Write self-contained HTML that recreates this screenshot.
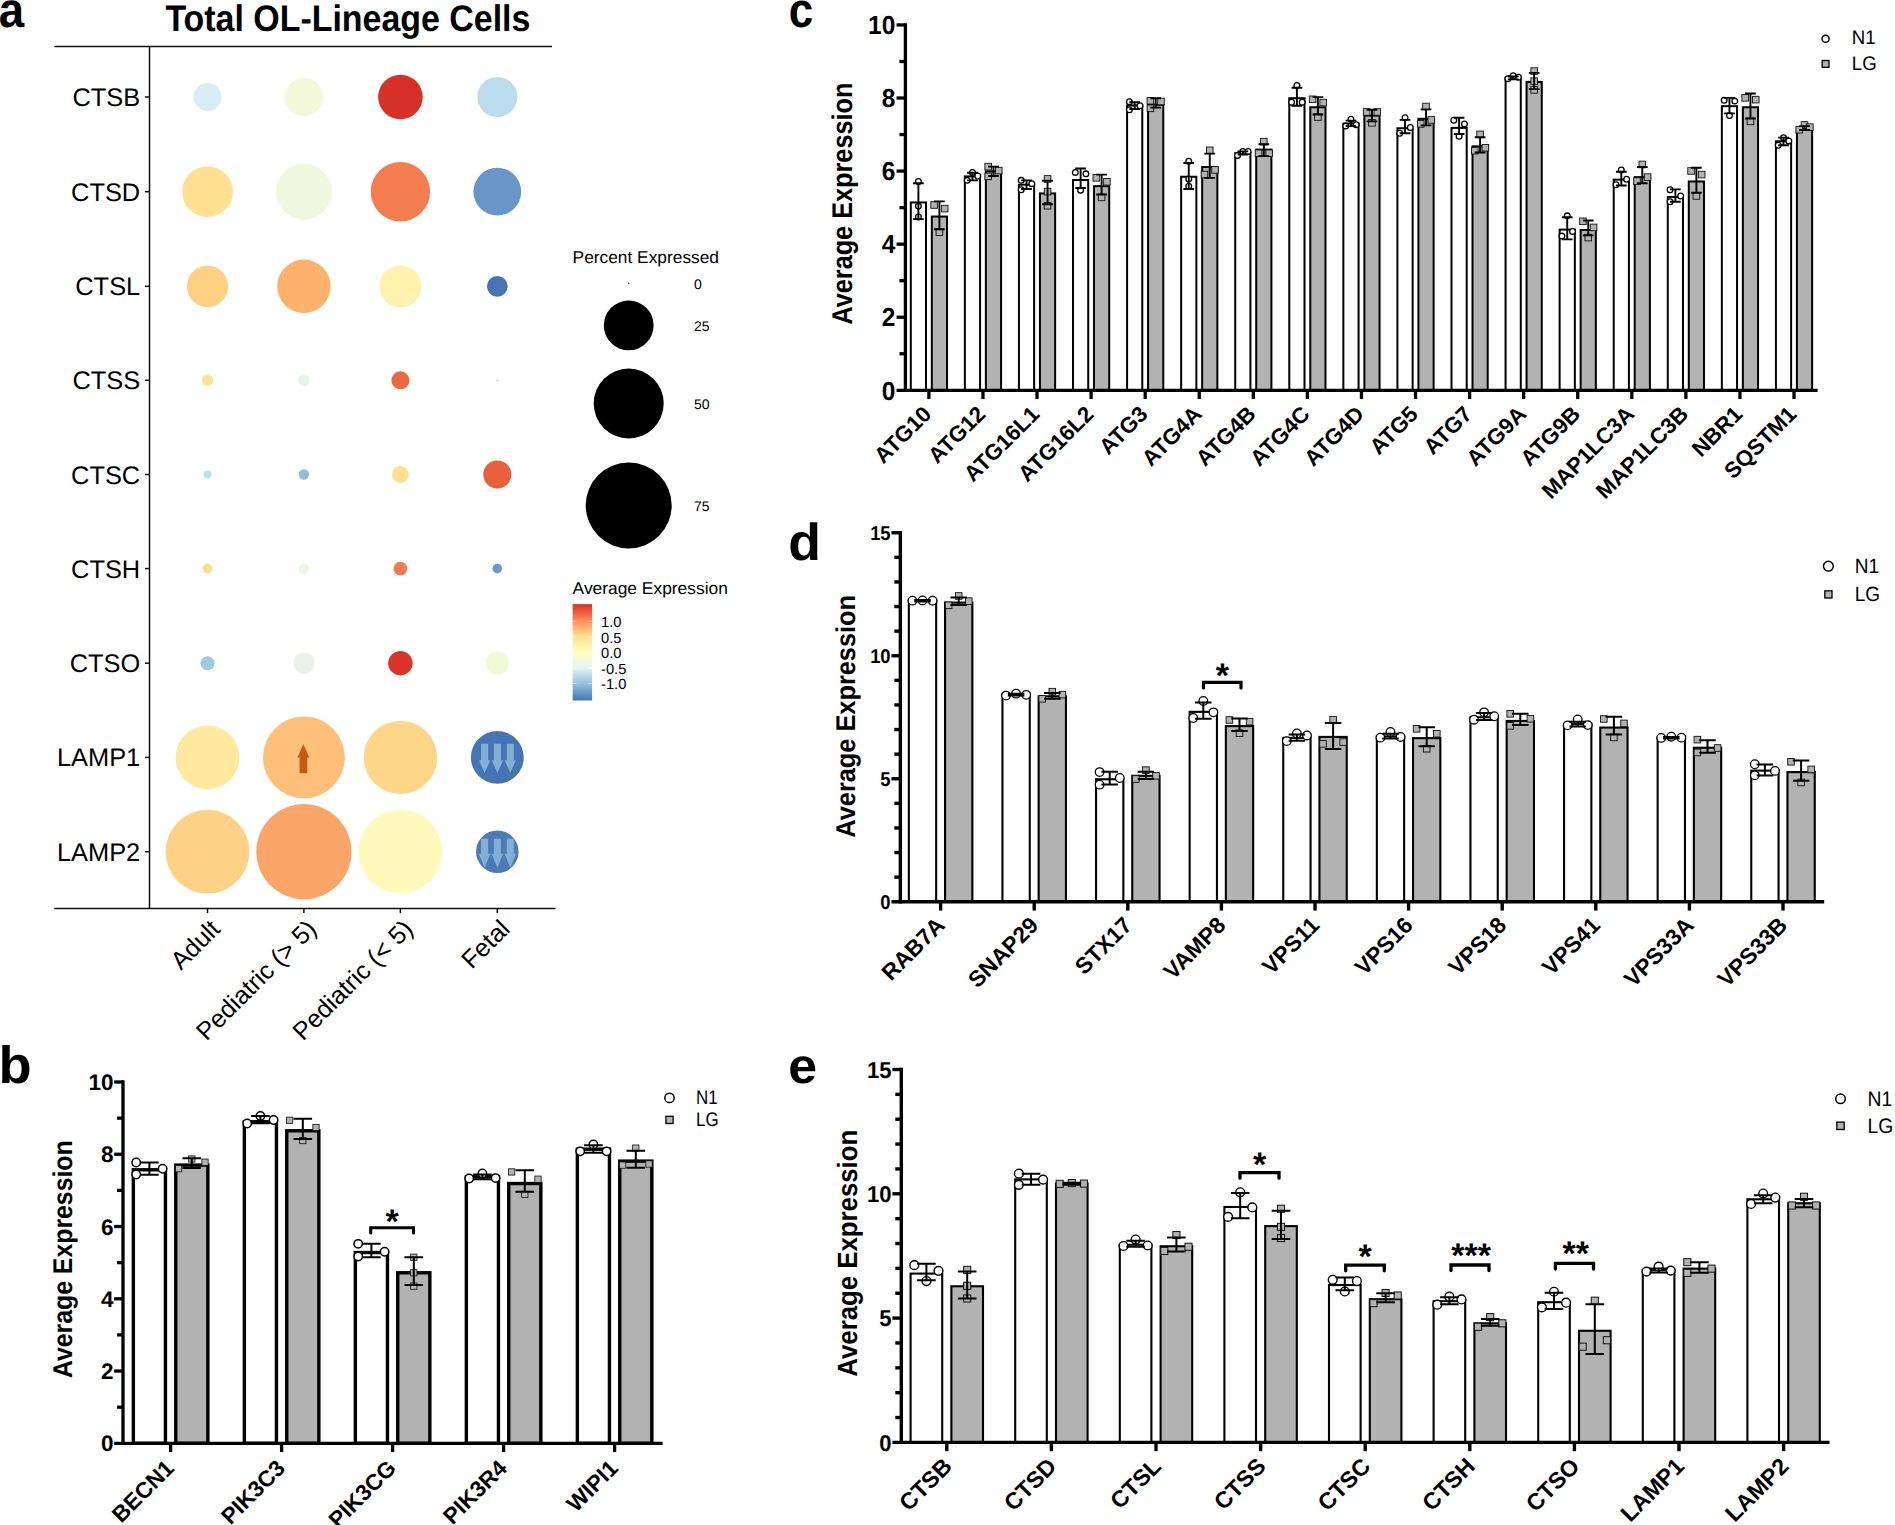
<!DOCTYPE html>
<html lang="en">
<head>
<meta charset="utf-8">
<title>Figure: OL-lineage lysosomal and autophagy gene expression</title>
<style>
html,body{margin:0;padding:0;background:#fff;}
body{width:1895px;height:1525px;overflow:hidden;}
svg{display:block;font-family:'Liberation Sans', Arial, Helvetica, sans-serif;fill:#000;}
svg text{fill:#000;}
</style>
</head>
<body>
<svg width="1895" height="1525" viewBox="0 0 1895 1525" text-rendering="geometricPrecision">
<rect x="0" y="0" width="1895" height="1525" fill="#fff"/>
<g id="panel-a">
<text x="-1.33" y="27.1" font-size="49.8" font-weight="bold" textLength="25.41" lengthAdjust="spacingAndGlyphs">a</text>
<text x="165.4" y="31.2" font-size="37" font-weight="bold" textLength="365" lengthAdjust="spacingAndGlyphs">Total OL-Lineage Cells</text>
<g stroke="#111" stroke-width="1.5" fill="none">
<line x1="54.3" y1="46.5" x2="552" y2="46.5"/>
<line x1="54.3" y1="908.5" x2="555.5" y2="908.5"/>
<line x1="149.5" y1="46.5" x2="149.5" y2="908.5"/>
<line x1="144.9" y1="97" x2="149.5" y2="97"/>
<line x1="144.9" y1="191.7" x2="149.5" y2="191.7"/>
<line x1="144.9" y1="286.3" x2="149.5" y2="286.3"/>
<line x1="144.9" y1="380.3" x2="149.5" y2="380.3"/>
<line x1="144.9" y1="474.5" x2="149.5" y2="474.5"/>
<line x1="144.9" y1="568.6" x2="149.5" y2="568.6"/>
<line x1="144.9" y1="663.2" x2="149.5" y2="663.2"/>
<line x1="144.9" y1="757.4" x2="149.5" y2="757.4"/>
<line x1="144.9" y1="851.7" x2="149.5" y2="851.7"/>
<line x1="207.5" y1="908.5" x2="207.5" y2="913.1"/>
<line x1="303.9" y1="908.5" x2="303.9" y2="913.1"/>
<line x1="400.4" y1="908.5" x2="400.4" y2="913.1"/>
<line x1="497.3" y1="908.5" x2="497.3" y2="913.1"/>
</g>
<g font-size="25.4" text-anchor="end" fill="#000">
<text x="140.2" y="106">CTSB</text>
<text x="140.2" y="200.7">CTSD</text>
<text x="140.2" y="295.3">CTSL</text>
<text x="140.2" y="389.3">CTSS</text>
<text x="140.2" y="483.5">CTSC</text>
<text x="140.2" y="577.6">CTSH</text>
<text x="140.2" y="672.2">CTSO</text>
<text x="140.2" y="766.4">LAMP1</text>
<text x="140.2" y="860.7">LAMP2</text>
</g>
<g font-size="25.2" text-anchor="end" fill="#000">
<text transform="translate(221.5 930.5) rotate(-45)">Adult</text>
<text transform="translate(317.9 930.5) rotate(-45)">Pediatric (&gt; 5)</text>
<text transform="translate(414.4 930.5) rotate(-45)">Pediatric (&lt; 5)</text>
<text transform="translate(511.3 930.5) rotate(-45)">Fetal</text>
</g>
<circle cx="207.5" cy="97" r="14" fill="#D8EDF4"/>
<circle cx="303.9" cy="97" r="19.2" fill="#F4FAD9"/>
<circle cx="400.4" cy="97" r="22.3" fill="#D73027"/>
<circle cx="497.3" cy="97" r="20" fill="#BBDCEC"/>
<circle cx="207.5" cy="191.7" r="25.3" fill="#FEE090"/>
<circle cx="303.9" cy="191.7" r="28" fill="#EEF8DF"/>
<circle cx="400.4" cy="191.7" r="29.7" fill="#F47D4F"/>
<circle cx="497.3" cy="191.7" r="23.9" fill="#6A96C7"/>
<circle cx="207.5" cy="286.3" r="20.7" fill="#FED081"/>
<circle cx="303.9" cy="286.3" r="26.7" fill="#FDB26B"/>
<circle cx="400.4" cy="286.3" r="21" fill="#FFF2AE"/>
<circle cx="497.3" cy="286.3" r="10.4" fill="#4675B5"/>
<circle cx="207.5" cy="380.3" r="5.6" fill="#FEE08F"/>
<circle cx="303.9" cy="380.3" r="5.8" fill="#E6F5E6"/>
<circle cx="400.4" cy="380.3" r="9" fill="#EB6841"/>
<circle cx="497.3" cy="380.3" r="0.6" fill="#6C99C9"/>
<circle cx="207.5" cy="474.5" r="4" fill="#BFE0EE"/>
<circle cx="303.9" cy="474.5" r="5.2" fill="#8DBFDC"/>
<circle cx="400.4" cy="474.5" r="8.4" fill="#FEE090"/>
<circle cx="497.3" cy="474.5" r="14" fill="#E8603C"/>
<circle cx="207.5" cy="568.6" r="4.8" fill="#FEDC88"/>
<circle cx="303.9" cy="568.6" r="5.2" fill="#EAF6E0"/>
<circle cx="400.4" cy="568.6" r="6.8" fill="#F37A4C"/>
<circle cx="497.3" cy="568.6" r="4.8" fill="#6C99C9"/>
<circle cx="207.5" cy="663.2" r="7" fill="#9CCAE2"/>
<circle cx="303.9" cy="663.2" r="10.8" fill="#E8F5E6"/>
<circle cx="400.4" cy="663.2" r="12.2" fill="#D93529"/>
<circle cx="497.3" cy="663.2" r="11.6" fill="#F2F9D5"/>
<circle cx="207.5" cy="757.4" r="31.9" fill="#FEE99F"/>
<circle cx="303.9" cy="757.4" r="40.9" fill="#FDBF7A"/>
<circle cx="400.4" cy="757.4" r="36.7" fill="#FED687"/>
<circle cx="497.3" cy="757.4" r="26.4" fill="#4575B4"/>
<circle cx="207.5" cy="851.7" r="41.9" fill="#FED286"/>
<circle cx="303.9" cy="851.7" r="47.6" fill="#FCA568"/>
<circle cx="400.4" cy="851.7" r="41.8" fill="#FFFABA"/>
<circle cx="497.3" cy="851.7" r="21.3" fill="#4C7BB8"/>
<path fill="#C55A11" d="M303.4 744.2 L309.3 757.6 L307.25 757.6 L307.25 773.3 L299.55 773.3 L299.55 757.6 L297.5 757.6 Z"/>
<clipPath id="clipda0"><circle cx="497.3" cy="757.4" r="26.4"/></clipPath>
<g clip-path="url(#clipda0)" fill="#85AED4">
<path d="M481.1 743.8 L488.1 743.8 L488.1 760.2 L490.3 760.2 L484.6 772.8 L478.9 760.2 L481.1 760.2 Z"/>
<path d="M493.9 743.8 L500.9 743.8 L500.9 760.2 L503.1 760.2 L497.4 772.8 L491.7 760.2 L493.9 760.2 Z"/>
<path d="M506.8 743.8 L513.8 743.8 L513.8 760.2 L516 760.2 L510.3 772.8 L504.6 760.2 L506.8 760.2 Z"/>
</g>
<clipPath id="clipda1"><circle cx="497.3" cy="851.7" r="21.3"/></clipPath>
<g clip-path="url(#clipda1)" fill="#85AED4">
<path d="M481.1 838.7 L488.1 838.7 L488.1 853.8 L490.3 853.8 L484.6 867.7 L478.9 853.8 L481.1 853.8 Z"/>
<path d="M493.9 838.7 L500.9 838.7 L500.9 853.8 L503.1 853.8 L497.4 867.7 L491.7 853.8 L493.9 853.8 Z"/>
<path d="M506.8 838.7 L513.8 838.7 L513.8 853.8 L516 853.8 L510.3 867.7 L504.6 853.8 L506.8 853.8 Z"/>
</g>
<text x="572.6" y="263.3" font-size="17" textLength="146.4" lengthAdjust="spacingAndGlyphs">Percent Expressed</text>
<circle cx="628.7" cy="283.2" r="0.6" fill="#000"/>
<text x="693.9" y="289.2" font-size="14">0</text>
<circle cx="628.7" cy="325.4" r="24.9" fill="#000"/>
<text x="693.9" y="331" font-size="14">25</text>
<circle cx="628.7" cy="403.5" r="35" fill="#000"/>
<text x="693.9" y="409.2" font-size="14">50</text>
<circle cx="628.7" cy="505.4" r="43" fill="#000"/>
<text x="693.9" y="511.2" font-size="14">75</text>
<text x="572.6" y="594" font-size="17" textLength="155.3" lengthAdjust="spacingAndGlyphs">Average Expression</text>
<defs><linearGradient id="cbar" x1="0" y1="0" x2="0" y2="1">
<stop offset="0" stop-color="#D73027"/>
<stop offset="0.17" stop-color="#FC8D59"/>
<stop offset="0.33" stop-color="#FEE090"/>
<stop offset="0.5" stop-color="#FFFFBF"/>
<stop offset="0.67" stop-color="#E0F3F8"/>
<stop offset="0.83" stop-color="#91BFDB"/>
<stop offset="1" stop-color="#4575B4"/>
</linearGradient></defs>
<rect x="572.6" y="604.1" width="19.5" height="96.4" fill="url(#cbar)"/>
<text x="601" y="626.8" font-size="14.7">1.0</text>
<line x1="572.6" y1="621.2" x2="576.5" y2="621.2" stroke="#fff" stroke-opacity="0.6" stroke-width="0.8"/>
<line x1="588.2" y1="621.2" x2="592.1" y2="621.2" stroke="#fff" stroke-opacity="0.6" stroke-width="0.8"/>
<text x="601" y="642.6" font-size="14.7">0.5</text>
<line x1="572.6" y1="637" x2="576.5" y2="637" stroke="#fff" stroke-opacity="0.6" stroke-width="0.8"/>
<line x1="588.2" y1="637" x2="592.1" y2="637" stroke="#fff" stroke-opacity="0.6" stroke-width="0.8"/>
<text x="601" y="658" font-size="14.7">0.0</text>
<line x1="572.6" y1="652.4" x2="576.5" y2="652.4" stroke="#fff" stroke-opacity="0.6" stroke-width="0.8"/>
<line x1="588.2" y1="652.4" x2="592.1" y2="652.4" stroke="#fff" stroke-opacity="0.6" stroke-width="0.8"/>
<text x="601" y="673.7" font-size="14.7">-0.5</text>
<line x1="572.6" y1="668.1" x2="576.5" y2="668.1" stroke="#fff" stroke-opacity="0.6" stroke-width="0.8"/>
<line x1="588.2" y1="668.1" x2="592.1" y2="668.1" stroke="#fff" stroke-opacity="0.6" stroke-width="0.8"/>
<text x="601" y="689.2" font-size="14.7">-1.0</text>
<line x1="572.6" y1="683.6" x2="576.5" y2="683.6" stroke="#fff" stroke-opacity="0.6" stroke-width="0.8"/>
<line x1="588.2" y1="683.6" x2="592.1" y2="683.6" stroke="#fff" stroke-opacity="0.6" stroke-width="0.8"/>
</g>
<g id="panel-b">
<text x="-1.63" y="1083.18" font-size="52.4" font-weight="bold" textLength="33.14" lengthAdjust="spacingAndGlyphs">b</text>
<rect x="133.35" y="1169.8" width="32.1" height="273.5" fill="#fff" stroke="#000" stroke-width="3.4"/>
<rect x="175.75" y="1165.1" width="32.1" height="278.2" fill="#B2B2B2" stroke="#000" stroke-width="3.4"/>
<rect x="244.35" y="1121.74" width="32.1" height="321.56" fill="#fff" stroke="#000" stroke-width="3.4"/>
<rect x="286.75" y="1130.78" width="32.1" height="312.52" fill="#B2B2B2" stroke="#000" stroke-width="3.4"/>
<rect x="355.35" y="1252.53" width="32.1" height="190.77" fill="#fff" stroke="#000" stroke-width="3.4"/>
<rect x="397.75" y="1272.77" width="32.1" height="170.53" fill="#B2B2B2" stroke="#000" stroke-width="3.4"/>
<rect x="466.35" y="1176.66" width="32.1" height="266.64" fill="#fff" stroke="#000" stroke-width="3.4"/>
<rect x="508.75" y="1183.53" width="32.1" height="259.77" fill="#B2B2B2" stroke="#000" stroke-width="3.4"/>
<rect x="577.35" y="1149.2" width="32.1" height="294.1" fill="#fff" stroke="#000" stroke-width="3.4"/>
<rect x="619.75" y="1161.12" width="32.1" height="282.18" fill="#B2B2B2" stroke="#000" stroke-width="3.4"/>
<circle cx="136.2" cy="1162.57" r="4.2" fill="#fff" stroke="#000" stroke-width="1.5"/>
<circle cx="162.6" cy="1168.71" r="4.2" fill="#fff" stroke="#000" stroke-width="1.5"/>
<circle cx="136.2" cy="1174.49" r="4.2" fill="#fff" stroke="#000" stroke-width="1.5"/>
<path d="M149.4 1162.57 V1174.85 M140.1 1162.57 H158.7 M140.1 1174.85 H158.7" stroke="#000" stroke-width="2" fill="none"/>
<rect x="188.65" y="1155.81" width="6.3" height="6.3" fill="#B2B2B2" stroke="#111" stroke-width="0.8"/>
<rect x="201.85" y="1159.06" width="6.3" height="6.3" fill="#B2B2B2" stroke="#111" stroke-width="0.8"/>
<rect x="175.45" y="1165.56" width="6.3" height="6.3" fill="#B2B2B2" stroke="#111" stroke-width="0.8"/>
<path d="M191.8 1158.23 V1167.99 M182.5 1158.23 H201.1 M182.5 1167.99 H201.1" stroke="#000" stroke-width="2" fill="none"/>
<circle cx="247.2" cy="1123.55" r="4.2" fill="#fff" stroke="#000" stroke-width="1.5"/>
<circle cx="260.4" cy="1115.96" r="4.2" fill="#fff" stroke="#000" stroke-width="1.5"/>
<circle cx="273.6" cy="1119.94" r="4.2" fill="#fff" stroke="#000" stroke-width="1.5"/>
<path d="M260.4 1115.96 V1123.19 M251.1 1115.96 H269.7 M251.1 1123.19 H269.7" stroke="#000" stroke-width="2" fill="none"/>
<rect x="286.45" y="1117.15" width="6.3" height="6.3" fill="#B2B2B2" stroke="#111" stroke-width="0.8"/>
<rect x="312.85" y="1124.37" width="6.3" height="6.3" fill="#B2B2B2" stroke="#111" stroke-width="0.8"/>
<rect x="299.65" y="1137.38" width="6.3" height="6.3" fill="#B2B2B2" stroke="#111" stroke-width="0.8"/>
<path d="M302.8 1118.85 V1139.09 M293.5 1118.85 H312.1 M293.5 1139.09 H312.1" stroke="#000" stroke-width="2" fill="none"/>
<circle cx="358.2" cy="1243.86" r="4.2" fill="#fff" stroke="#000" stroke-width="1.5"/>
<circle cx="384.6" cy="1251.81" r="4.2" fill="#fff" stroke="#000" stroke-width="1.5"/>
<circle cx="358.2" cy="1256.51" r="4.2" fill="#fff" stroke="#000" stroke-width="1.5"/>
<path d="M371.4 1243.86 V1257.23 M362.1 1243.86 H380.7 M362.1 1257.23 H380.7" stroke="#000" stroke-width="2" fill="none"/>
<rect x="410.65" y="1254.08" width="6.3" height="6.3" fill="#B2B2B2" stroke="#111" stroke-width="0.8"/>
<rect x="410.65" y="1269.62" width="6.3" height="6.3" fill="#B2B2B2" stroke="#111" stroke-width="0.8"/>
<rect x="410.65" y="1282.98" width="6.3" height="6.3" fill="#B2B2B2" stroke="#111" stroke-width="0.8"/>
<path d="M413.8 1257.23 V1285.05 M404.5 1257.23 H423.1 M404.5 1285.05 H423.1" stroke="#000" stroke-width="2" fill="none"/>
<circle cx="469.2" cy="1178.47" r="4.2" fill="#fff" stroke="#000" stroke-width="1.5"/>
<circle cx="482.4" cy="1173.41" r="4.2" fill="#fff" stroke="#000" stroke-width="1.5"/>
<circle cx="495.6" cy="1178.11" r="4.2" fill="#fff" stroke="#000" stroke-width="1.5"/>
<path d="M482.4 1174.49 V1179.19 M473.1 1174.49 H491.7 M473.1 1179.19 H491.7" stroke="#000" stroke-width="2" fill="none"/>
<rect x="508.45" y="1168.81" width="6.3" height="6.3" fill="#B2B2B2" stroke="#111" stroke-width="0.8"/>
<rect x="534.85" y="1176.04" width="6.3" height="6.3" fill="#B2B2B2" stroke="#111" stroke-width="0.8"/>
<rect x="521.65" y="1191.21" width="6.3" height="6.3" fill="#B2B2B2" stroke="#111" stroke-width="0.8"/>
<path d="M524.8 1170.16 V1191.84 M515.5 1170.16 H534.1 M515.5 1191.84 H534.1" stroke="#000" stroke-width="2" fill="none"/>
<circle cx="580.2" cy="1151.37" r="4.2" fill="#fff" stroke="#000" stroke-width="1.5"/>
<circle cx="593.4" cy="1144.5" r="4.2" fill="#fff" stroke="#000" stroke-width="1.5"/>
<circle cx="606.6" cy="1151.37" r="4.2" fill="#fff" stroke="#000" stroke-width="1.5"/>
<path d="M593.4 1145.23 V1152.81 M584.1 1145.23 H602.7 M584.1 1152.81 H602.7" stroke="#000" stroke-width="2" fill="none"/>
<rect x="619.45" y="1161.95" width="6.3" height="6.3" fill="#B2B2B2" stroke="#111" stroke-width="0.8"/>
<rect x="645.85" y="1160.87" width="6.3" height="6.3" fill="#B2B2B2" stroke="#111" stroke-width="0.8"/>
<rect x="632.65" y="1144.97" width="6.3" height="6.3" fill="#B2B2B2" stroke="#111" stroke-width="0.8"/>
<path d="M635.8 1150.65 V1167.63 M626.5 1150.65 H645.1 M626.5 1167.63 H645.1" stroke="#000" stroke-width="2" fill="none"/>
<g stroke="#000" stroke-width="3.3" fill="none">
<line x1="123" y1="1080.35" x2="123" y2="1444.95"/>
<line x1="114.15" y1="1443.3" x2="662.6" y2="1443.3"/>
<line x1="117.05" y1="1407.17" x2="123" y2="1407.17"/>
<line x1="114.15" y1="1371.04" x2="123" y2="1371.04"/>
<line x1="117.05" y1="1334.91" x2="123" y2="1334.91"/>
<line x1="114.15" y1="1298.78" x2="123" y2="1298.78"/>
<line x1="117.05" y1="1262.65" x2="123" y2="1262.65"/>
<line x1="114.15" y1="1226.52" x2="123" y2="1226.52"/>
<line x1="117.05" y1="1190.39" x2="123" y2="1190.39"/>
<line x1="114.15" y1="1154.26" x2="123" y2="1154.26"/>
<line x1="117.05" y1="1118.13" x2="123" y2="1118.13"/>
<line x1="114.15" y1="1082" x2="123" y2="1082"/>
<line x1="170.6" y1="1443.3" x2="170.6" y2="1452.05"/>
<line x1="281.6" y1="1443.3" x2="281.6" y2="1452.05"/>
<line x1="392.6" y1="1443.3" x2="392.6" y2="1452.05"/>
<line x1="503.6" y1="1443.3" x2="503.6" y2="1452.05"/>
<line x1="614.6" y1="1443.3" x2="614.6" y2="1452.05"/>
</g>
<g font-size="22.5" font-weight="bold" text-anchor="end">
<text transform="translate(113.6 1451.3) scale(1 1)">0</text>
<text transform="translate(113.6 1379.04) scale(1 1)">2</text>
<text transform="translate(113.6 1306.78) scale(1 1)">4</text>
<text transform="translate(113.6 1234.52) scale(1 1)">6</text>
<text transform="translate(113.6 1162.26) scale(1 1)">8</text>
<text transform="translate(113.6 1090) scale(1 1)">10</text>
</g>
<text transform="translate(72 1259.2) rotate(-90)" font-size="27.1" font-weight="bold" text-anchor="middle" textLength="237.8" lengthAdjust="spacingAndGlyphs">Average Expression</text>
<g font-size="22.6" font-weight="bold" text-anchor="end">
<text transform="translate(175.4 1469.5) rotate(-45)">BECN1</text>
<text transform="translate(286.4 1469.5) rotate(-45)">PIK3C3</text>
<text transform="translate(397.4 1469.5) rotate(-45)">PIK3CG</text>
<text transform="translate(508.4 1469.5) rotate(-45)">PIK3R4</text>
<text transform="translate(619.4 1469.5) rotate(-45)">WIPI1</text>
</g>
<path d="M370.7 1233 V1227.8 H413.5 V1233" stroke="#000" stroke-width="3.1" fill="none" stroke-linejoin="miter" stroke-linecap="round"/>
<text x="392.1" y="1232.7" font-size="34" font-weight="bold" text-anchor="middle">*</text>
<circle cx="669.5" cy="1097.9" r="4.65" fill="#fff" stroke="#000" stroke-width="1.5"/>
<rect x="665.9" y="1116.3" width="7.2" height="7.2" fill="#B2B2B2" stroke="#000" stroke-width="1.3"/>
<text transform="translate(696 1104.3) scale(0.86 1)" font-size="19.7">N1</text>
<text transform="translate(696 1126.3) scale(0.86 1)" font-size="19.7">LG</text>
</g>
<g id="panel-c">
<text x="788.68" y="26.81" font-size="49.3" font-weight="bold" textLength="24.5" lengthAdjust="spacingAndGlyphs">c</text>
<rect x="910.8" y="202.46" width="15.2" height="187.84" fill="#fff" stroke="#000" stroke-width="2"/>
<rect x="931.8" y="216.57" width="15.2" height="173.73" fill="#B2B2B2" stroke="#000" stroke-width="2"/>
<rect x="964.87" y="176.39" width="15.2" height="213.91" fill="#fff" stroke="#000" stroke-width="2"/>
<rect x="985.87" y="171.32" width="15.2" height="218.98" fill="#B2B2B2" stroke="#000" stroke-width="2"/>
<rect x="1018.94" y="184.72" width="15.2" height="205.58" fill="#fff" stroke="#000" stroke-width="2"/>
<rect x="1039.94" y="193.41" width="15.2" height="196.89" fill="#B2B2B2" stroke="#000" stroke-width="2"/>
<rect x="1073.01" y="180.01" width="15.2" height="210.29" fill="#fff" stroke="#000" stroke-width="2"/>
<rect x="1094.01" y="186.17" width="15.2" height="204.13" fill="#B2B2B2" stroke="#000" stroke-width="2"/>
<rect x="1127.08" y="105.44" width="15.2" height="284.86" fill="#fff" stroke="#000" stroke-width="2"/>
<rect x="1148.08" y="104.72" width="15.2" height="285.58" fill="#B2B2B2" stroke="#000" stroke-width="2"/>
<rect x="1181.15" y="176.75" width="15.2" height="213.55" fill="#fff" stroke="#000" stroke-width="2"/>
<rect x="1202.15" y="166.98" width="15.2" height="223.32" fill="#B2B2B2" stroke="#000" stroke-width="2"/>
<rect x="1235.22" y="153.22" width="15.2" height="237.08" fill="#fff" stroke="#000" stroke-width="2"/>
<rect x="1256.22" y="149.61" width="15.2" height="240.69" fill="#B2B2B2" stroke="#000" stroke-width="2"/>
<rect x="1289.29" y="98.2" width="15.2" height="292.1" fill="#fff" stroke="#000" stroke-width="2"/>
<rect x="1310.29" y="107.25" width="15.2" height="283.05" fill="#B2B2B2" stroke="#000" stroke-width="2"/>
<rect x="1343.36" y="123.54" width="15.2" height="266.76" fill="#fff" stroke="#000" stroke-width="2"/>
<rect x="1364.36" y="115.58" width="15.2" height="274.72" fill="#B2B2B2" stroke="#000" stroke-width="2"/>
<rect x="1397.43" y="128.25" width="15.2" height="262.05" fill="#fff" stroke="#000" stroke-width="2"/>
<rect x="1418.43" y="118.84" width="15.2" height="271.46" fill="#B2B2B2" stroke="#000" stroke-width="2"/>
<rect x="1451.5" y="127.89" width="15.2" height="262.41" fill="#fff" stroke="#000" stroke-width="2"/>
<rect x="1472.5" y="146.35" width="15.2" height="243.95" fill="#B2B2B2" stroke="#000" stroke-width="2"/>
<rect x="1505.57" y="77.93" width="15.2" height="312.37" fill="#fff" stroke="#000" stroke-width="2"/>
<rect x="1526.57" y="81.91" width="15.2" height="308.39" fill="#B2B2B2" stroke="#000" stroke-width="2"/>
<rect x="1559.64" y="229.6" width="15.2" height="160.7" fill="#fff" stroke="#000" stroke-width="2"/>
<rect x="1580.64" y="229.97" width="15.2" height="160.33" fill="#B2B2B2" stroke="#000" stroke-width="2"/>
<rect x="1613.71" y="179.65" width="15.2" height="210.65" fill="#fff" stroke="#000" stroke-width="2"/>
<rect x="1634.71" y="177.12" width="15.2" height="213.18" fill="#B2B2B2" stroke="#000" stroke-width="2"/>
<rect x="1667.78" y="197.03" width="15.2" height="193.27" fill="#fff" stroke="#000" stroke-width="2"/>
<rect x="1688.78" y="181.46" width="15.2" height="208.84" fill="#B2B2B2" stroke="#000" stroke-width="2"/>
<rect x="1721.85" y="106.17" width="15.2" height="284.13" fill="#fff" stroke="#000" stroke-width="2"/>
<rect x="1742.85" y="107.25" width="15.2" height="283.05" fill="#B2B2B2" stroke="#000" stroke-width="2"/>
<rect x="1775.92" y="141.28" width="15.2" height="249.02" fill="#fff" stroke="#000" stroke-width="2"/>
<rect x="1796.92" y="127.52" width="15.2" height="262.78" fill="#B2B2B2" stroke="#000" stroke-width="2"/>
<circle cx="918.4" cy="181.46" r="2.85" fill="#fff" stroke="#000" stroke-width="1.3"/>
<circle cx="918.4" cy="206.08" r="2.85" fill="#fff" stroke="#000" stroke-width="1.3"/>
<circle cx="918.4" cy="216.93" r="2.85" fill="#fff" stroke="#000" stroke-width="1.3"/>
<path d="M918.4 183.27 V219.11 M913.05 183.27 H923.75 M913.05 219.11 H923.75" stroke="#000" stroke-width="1.9" fill="none"/>
<rect x="930.8" y="201.69" width="6.6" height="6.6" fill="#B2B2B2" stroke="#111" stroke-width="0.9"/>
<rect x="941.4" y="205.31" width="6.6" height="6.6" fill="#B2B2B2" stroke="#111" stroke-width="0.9"/>
<rect x="936.1" y="228.84" width="6.6" height="6.6" fill="#B2B2B2" stroke="#111" stroke-width="0.9"/>
<path d="M939.4 201.37 V229.24 M934.05 201.37 H944.75 M934.05 229.24 H944.75" stroke="#000" stroke-width="1.9" fill="none"/>
<circle cx="972.47" cy="172.41" r="2.85" fill="#fff" stroke="#000" stroke-width="1.3"/>
<circle cx="977.77" cy="176.03" r="2.85" fill="#fff" stroke="#000" stroke-width="1.3"/>
<circle cx="967.17" cy="180.37" r="2.85" fill="#fff" stroke="#000" stroke-width="1.3"/>
<path d="M972.47 172.77 V180.37 M967.12 172.77 H977.82 M967.12 180.37 H977.82" stroke="#000" stroke-width="1.9" fill="none"/>
<rect x="984.87" y="163.32" width="6.6" height="6.6" fill="#B2B2B2" stroke="#111" stroke-width="0.9"/>
<rect x="995.47" y="167.3" width="6.6" height="6.6" fill="#B2B2B2" stroke="#111" stroke-width="0.9"/>
<rect x="984.87" y="173.09" width="6.6" height="6.6" fill="#B2B2B2" stroke="#111" stroke-width="0.9"/>
<path d="M993.47 166.62 V176.03 M988.12 166.62 H998.82 M988.12 176.03 H998.82" stroke="#000" stroke-width="1.9" fill="none"/>
<circle cx="1021.24" cy="180.37" r="2.85" fill="#fff" stroke="#000" stroke-width="1.3"/>
<circle cx="1031.84" cy="183.63" r="2.85" fill="#fff" stroke="#000" stroke-width="1.3"/>
<circle cx="1021.24" cy="189.79" r="2.85" fill="#fff" stroke="#000" stroke-width="1.3"/>
<path d="M1026.54 180.37 V189.06 M1021.19 180.37 H1031.89 M1021.19 189.06 H1031.89" stroke="#000" stroke-width="1.9" fill="none"/>
<rect x="1044.24" y="175.63" width="6.6" height="6.6" fill="#B2B2B2" stroke="#111" stroke-width="0.9"/>
<rect x="1044.24" y="188.3" width="6.6" height="6.6" fill="#B2B2B2" stroke="#111" stroke-width="0.9"/>
<rect x="1044.24" y="202.41" width="6.6" height="6.6" fill="#B2B2B2" stroke="#111" stroke-width="0.9"/>
<path d="M1047.54 180.74 V204.27 M1042.19 180.74 H1052.89 M1042.19 204.27 H1052.89" stroke="#000" stroke-width="1.9" fill="none"/>
<circle cx="1075.31" cy="172.41" r="2.85" fill="#fff" stroke="#000" stroke-width="1.3"/>
<circle cx="1085.91" cy="173.86" r="2.85" fill="#fff" stroke="#000" stroke-width="1.3"/>
<circle cx="1080.61" cy="190.15" r="2.85" fill="#fff" stroke="#000" stroke-width="1.3"/>
<path d="M1080.61 168.43 V187.98 M1075.26 168.43 H1085.96 M1075.26 187.98 H1085.96" stroke="#000" stroke-width="1.9" fill="none"/>
<rect x="1093.01" y="174.54" width="6.6" height="6.6" fill="#B2B2B2" stroke="#111" stroke-width="0.9"/>
<rect x="1103.61" y="178.52" width="6.6" height="6.6" fill="#B2B2B2" stroke="#111" stroke-width="0.9"/>
<rect x="1098.31" y="194.09" width="6.6" height="6.6" fill="#B2B2B2" stroke="#111" stroke-width="0.9"/>
<path d="M1101.61 174.58 V194.49 M1096.26 174.58 H1106.96 M1096.26 194.49 H1106.96" stroke="#000" stroke-width="1.9" fill="none"/>
<circle cx="1129.38" cy="101.82" r="2.85" fill="#fff" stroke="#000" stroke-width="1.3"/>
<circle cx="1139.98" cy="105.8" r="2.85" fill="#fff" stroke="#000" stroke-width="1.3"/>
<circle cx="1129.38" cy="109.79" r="2.85" fill="#fff" stroke="#000" stroke-width="1.3"/>
<path d="M1134.68 102.18 V109.06 M1129.33 102.18 H1140.03 M1129.33 109.06 H1140.03" stroke="#000" stroke-width="1.9" fill="none"/>
<rect x="1147.08" y="97.44" width="6.6" height="6.6" fill="#B2B2B2" stroke="#111" stroke-width="0.9"/>
<rect x="1157.68" y="98.16" width="6.6" height="6.6" fill="#B2B2B2" stroke="#111" stroke-width="0.9"/>
<rect x="1147.08" y="105.04" width="6.6" height="6.6" fill="#B2B2B2" stroke="#111" stroke-width="0.9"/>
<path d="M1155.68 98.2 V107.61 M1150.33 98.2 H1161.03 M1150.33 107.61 H1161.03" stroke="#000" stroke-width="1.9" fill="none"/>
<circle cx="1188.75" cy="161.19" r="2.85" fill="#fff" stroke="#000" stroke-width="1.3"/>
<circle cx="1188.75" cy="178.93" r="2.85" fill="#fff" stroke="#000" stroke-width="1.3"/>
<circle cx="1188.75" cy="186.17" r="2.85" fill="#fff" stroke="#000" stroke-width="1.3"/>
<path d="M1188.75 163 V189.06 M1183.4 163 H1194.1 M1183.4 189.06 H1194.1" stroke="#000" stroke-width="1.9" fill="none"/>
<rect x="1206.45" y="147.03" width="6.6" height="6.6" fill="#B2B2B2" stroke="#111" stroke-width="0.9"/>
<rect x="1211.75" y="166.58" width="6.6" height="6.6" fill="#B2B2B2" stroke="#111" stroke-width="0.9"/>
<rect x="1201.15" y="171.28" width="6.6" height="6.6" fill="#B2B2B2" stroke="#111" stroke-width="0.9"/>
<path d="M1209.75 153.59 V177.84 M1204.4 153.59 H1215.1 M1204.4 177.84 H1215.1" stroke="#000" stroke-width="1.9" fill="none"/>
<circle cx="1237.52" cy="155.4" r="2.85" fill="#fff" stroke="#000" stroke-width="1.3"/>
<circle cx="1242.82" cy="151.42" r="2.85" fill="#fff" stroke="#000" stroke-width="1.3"/>
<circle cx="1248.12" cy="151.42" r="2.85" fill="#fff" stroke="#000" stroke-width="1.3"/>
<path d="M1242.82 151.42 V154.67 M1237.47 151.42 H1248.17 M1237.47 154.67 H1248.17" stroke="#000" stroke-width="1.9" fill="none"/>
<rect x="1260.52" y="138.34" width="6.6" height="6.6" fill="#B2B2B2" stroke="#111" stroke-width="0.9"/>
<rect x="1255.22" y="149.92" width="6.6" height="6.6" fill="#B2B2B2" stroke="#111" stroke-width="0.9"/>
<rect x="1265.82" y="149.92" width="6.6" height="6.6" fill="#B2B2B2" stroke="#111" stroke-width="0.9"/>
<path d="M1263.82 144.18 V156.12 M1258.47 144.18 H1269.17 M1258.47 156.12 H1269.17" stroke="#000" stroke-width="1.9" fill="none"/>
<circle cx="1296.89" cy="85.53" r="2.85" fill="#fff" stroke="#000" stroke-width="1.3"/>
<circle cx="1291.59" cy="102.18" r="2.85" fill="#fff" stroke="#000" stroke-width="1.3"/>
<circle cx="1302.19" cy="102.18" r="2.85" fill="#fff" stroke="#000" stroke-width="1.3"/>
<path d="M1296.89 87.71 V105.8 M1291.54 87.71 H1302.24 M1291.54 105.8 H1302.24" stroke="#000" stroke-width="1.9" fill="none"/>
<rect x="1309.29" y="95.99" width="6.6" height="6.6" fill="#B2B2B2" stroke="#111" stroke-width="0.9"/>
<rect x="1319.89" y="99.25" width="6.6" height="6.6" fill="#B2B2B2" stroke="#111" stroke-width="0.9"/>
<rect x="1314.59" y="113.73" width="6.6" height="6.6" fill="#B2B2B2" stroke="#111" stroke-width="0.9"/>
<path d="M1317.89 97.12 V114.49 M1312.54 97.12 H1323.24 M1312.54 114.49 H1323.24" stroke="#000" stroke-width="1.9" fill="none"/>
<circle cx="1350.96" cy="119.2" r="2.85" fill="#fff" stroke="#000" stroke-width="1.3"/>
<circle cx="1345.66" cy="126.08" r="2.85" fill="#fff" stroke="#000" stroke-width="1.3"/>
<circle cx="1356.26" cy="124.63" r="2.85" fill="#fff" stroke="#000" stroke-width="1.3"/>
<path d="M1350.96 120.65 V126.08 M1345.61 120.65 H1356.31 M1345.61 126.08 H1356.31" stroke="#000" stroke-width="1.9" fill="none"/>
<rect x="1363.36" y="108.66" width="6.6" height="6.6" fill="#B2B2B2" stroke="#111" stroke-width="0.9"/>
<rect x="1373.96" y="108.66" width="6.6" height="6.6" fill="#B2B2B2" stroke="#111" stroke-width="0.9"/>
<rect x="1368.66" y="119.52" width="6.6" height="6.6" fill="#B2B2B2" stroke="#111" stroke-width="0.9"/>
<path d="M1371.96 109.79 V121.37 M1366.61 109.79 H1377.31 M1366.61 121.37 H1377.31" stroke="#000" stroke-width="1.9" fill="none"/>
<circle cx="1405.03" cy="117.75" r="2.85" fill="#fff" stroke="#000" stroke-width="1.3"/>
<circle cx="1410.33" cy="127.52" r="2.85" fill="#fff" stroke="#000" stroke-width="1.3"/>
<circle cx="1399.73" cy="133.32" r="2.85" fill="#fff" stroke="#000" stroke-width="1.3"/>
<path d="M1405.03 119.92 V133.32 M1399.68 119.92 H1410.38 M1399.68 133.32 H1410.38" stroke="#000" stroke-width="1.9" fill="none"/>
<rect x="1422.73" y="103.23" width="6.6" height="6.6" fill="#B2B2B2" stroke="#111" stroke-width="0.9"/>
<rect x="1428.03" y="116.62" width="6.6" height="6.6" fill="#B2B2B2" stroke="#111" stroke-width="0.9"/>
<rect x="1417.43" y="120.6" width="6.6" height="6.6" fill="#B2B2B2" stroke="#111" stroke-width="0.9"/>
<path d="M1426.03 109.42 V125.35 M1420.68 109.42 H1431.38 M1420.68 125.35 H1431.38" stroke="#000" stroke-width="1.9" fill="none"/>
<circle cx="1453.8" cy="120.28" r="2.85" fill="#fff" stroke="#000" stroke-width="1.3"/>
<circle cx="1464.4" cy="123.9" r="2.85" fill="#fff" stroke="#000" stroke-width="1.3"/>
<circle cx="1459.1" cy="136.21" r="2.85" fill="#fff" stroke="#000" stroke-width="1.3"/>
<path d="M1459.1 117.75 V134.04 M1453.75 117.75 H1464.45 M1453.75 134.04 H1464.45" stroke="#000" stroke-width="1.9" fill="none"/>
<rect x="1476.8" y="131.1" width="6.6" height="6.6" fill="#B2B2B2" stroke="#111" stroke-width="0.9"/>
<rect x="1482.1" y="144.5" width="6.6" height="6.6" fill="#B2B2B2" stroke="#111" stroke-width="0.9"/>
<rect x="1471.5" y="147.39" width="6.6" height="6.6" fill="#B2B2B2" stroke="#111" stroke-width="0.9"/>
<path d="M1480.1 137.3 V152.5 M1474.75 137.3 H1485.45 M1474.75 152.5 H1485.45" stroke="#000" stroke-width="1.9" fill="none"/>
<circle cx="1507.87" cy="78.66" r="2.85" fill="#fff" stroke="#000" stroke-width="1.3"/>
<circle cx="1513.17" cy="75.76" r="2.85" fill="#fff" stroke="#000" stroke-width="1.3"/>
<circle cx="1518.47" cy="77.21" r="2.85" fill="#fff" stroke="#000" stroke-width="1.3"/>
<path d="M1513.17 76.48 V79.38 M1507.82 76.48 H1518.52 M1507.82 79.38 H1518.52" stroke="#000" stroke-width="1.9" fill="none"/>
<rect x="1530.87" y="67.75" width="6.6" height="6.6" fill="#B2B2B2" stroke="#111" stroke-width="0.9"/>
<rect x="1530.87" y="77.89" width="6.6" height="6.6" fill="#B2B2B2" stroke="#111" stroke-width="0.9"/>
<rect x="1530.87" y="86.58" width="6.6" height="6.6" fill="#B2B2B2" stroke="#111" stroke-width="0.9"/>
<path d="M1534.17 72.86 V89.15 M1528.82 72.86 H1539.52 M1528.82 89.15 H1539.52" stroke="#000" stroke-width="1.9" fill="none"/>
<circle cx="1567.24" cy="215.85" r="2.85" fill="#fff" stroke="#000" stroke-width="1.3"/>
<circle cx="1572.54" cy="231.41" r="2.85" fill="#fff" stroke="#000" stroke-width="1.3"/>
<circle cx="1561.94" cy="236.12" r="2.85" fill="#fff" stroke="#000" stroke-width="1.3"/>
<path d="M1567.24 217.3 V239.38 M1561.89 217.3 H1572.59 M1561.89 239.38 H1572.59" stroke="#000" stroke-width="1.9" fill="none"/>
<rect x="1579.64" y="217.98" width="6.6" height="6.6" fill="#B2B2B2" stroke="#111" stroke-width="0.9"/>
<rect x="1590.24" y="224.13" width="6.6" height="6.6" fill="#B2B2B2" stroke="#111" stroke-width="0.9"/>
<rect x="1584.94" y="234.27" width="6.6" height="6.6" fill="#B2B2B2" stroke="#111" stroke-width="0.9"/>
<path d="M1588.24 220.55 V235.4 M1582.89 220.55 H1593.59 M1582.89 235.4 H1593.59" stroke="#000" stroke-width="1.9" fill="none"/>
<circle cx="1621.31" cy="169.88" r="2.85" fill="#fff" stroke="#000" stroke-width="1.3"/>
<circle cx="1626.61" cy="179.29" r="2.85" fill="#fff" stroke="#000" stroke-width="1.3"/>
<circle cx="1616.01" cy="184.72" r="2.85" fill="#fff" stroke="#000" stroke-width="1.3"/>
<path d="M1621.31 171.69 V185.44 M1615.96 171.69 H1626.66 M1615.96 185.44 H1626.66" stroke="#000" stroke-width="1.9" fill="none"/>
<rect x="1639.01" y="161.15" width="6.6" height="6.6" fill="#B2B2B2" stroke="#111" stroke-width="0.9"/>
<rect x="1644.31" y="173.82" width="6.6" height="6.6" fill="#B2B2B2" stroke="#111" stroke-width="0.9"/>
<rect x="1633.71" y="177.8" width="6.6" height="6.6" fill="#B2B2B2" stroke="#111" stroke-width="0.9"/>
<path d="M1642.31 166.98 V183.27 M1636.96 166.98 H1647.66 M1636.96 183.27 H1647.66" stroke="#000" stroke-width="1.9" fill="none"/>
<circle cx="1670.08" cy="189.79" r="2.85" fill="#fff" stroke="#000" stroke-width="1.3"/>
<circle cx="1680.68" cy="195.94" r="2.85" fill="#fff" stroke="#000" stroke-width="1.3"/>
<circle cx="1670.08" cy="201.73" r="2.85" fill="#fff" stroke="#000" stroke-width="1.3"/>
<path d="M1675.38 189.42 V201.73 M1670.03 189.42 H1680.73 M1670.03 201.73 H1680.73" stroke="#000" stroke-width="1.9" fill="none"/>
<rect x="1687.78" y="167.66" width="6.6" height="6.6" fill="#B2B2B2" stroke="#111" stroke-width="0.9"/>
<rect x="1698.38" y="171.28" width="6.6" height="6.6" fill="#B2B2B2" stroke="#111" stroke-width="0.9"/>
<rect x="1693.08" y="192.64" width="6.6" height="6.6" fill="#B2B2B2" stroke="#111" stroke-width="0.9"/>
<path d="M1696.38 167.7 V192.68 M1691.03 167.7 H1701.73 M1691.03 192.68 H1701.73" stroke="#000" stroke-width="1.9" fill="none"/>
<circle cx="1724.15" cy="100.37" r="2.85" fill="#fff" stroke="#000" stroke-width="1.3"/>
<circle cx="1734.75" cy="101.1" r="2.85" fill="#fff" stroke="#000" stroke-width="1.3"/>
<circle cx="1729.45" cy="115.58" r="2.85" fill="#fff" stroke="#000" stroke-width="1.3"/>
<path d="M1729.45 97.84 V113.41 M1724.1 97.84 H1734.8 M1724.1 113.41 H1734.8" stroke="#000" stroke-width="1.9" fill="none"/>
<rect x="1741.85" y="94.54" width="6.6" height="6.6" fill="#B2B2B2" stroke="#111" stroke-width="0.9"/>
<rect x="1752.45" y="96.35" width="6.6" height="6.6" fill="#B2B2B2" stroke="#111" stroke-width="0.9"/>
<rect x="1747.15" y="118.07" width="6.6" height="6.6" fill="#B2B2B2" stroke="#111" stroke-width="0.9"/>
<path d="M1750.45 93.5 V118.47 M1745.1 93.5 H1755.8 M1745.1 118.47 H1755.8" stroke="#000" stroke-width="1.9" fill="none"/>
<circle cx="1783.52" cy="137.66" r="2.85" fill="#fff" stroke="#000" stroke-width="1.3"/>
<circle cx="1788.82" cy="140.92" r="2.85" fill="#fff" stroke="#000" stroke-width="1.3"/>
<circle cx="1778.22" cy="145.26" r="2.85" fill="#fff" stroke="#000" stroke-width="1.3"/>
<path d="M1783.52 137.66 V145.26 M1778.17 137.66 H1788.87 M1778.17 145.26 H1788.87" stroke="#000" stroke-width="1.9" fill="none"/>
<rect x="1801.22" y="121.69" width="6.6" height="6.6" fill="#B2B2B2" stroke="#111" stroke-width="0.9"/>
<rect x="1806.52" y="123.86" width="6.6" height="6.6" fill="#B2B2B2" stroke="#111" stroke-width="0.9"/>
<rect x="1795.92" y="126.4" width="6.6" height="6.6" fill="#B2B2B2" stroke="#111" stroke-width="0.9"/>
<path d="M1804.52 126.08 V130.06 M1799.17 126.08 H1809.87 M1799.17 130.06 H1809.87" stroke="#000" stroke-width="1.9" fill="none"/>
<g stroke="#000" stroke-width="3.3" fill="none">
<line x1="905.4" y1="23.3" x2="905.4" y2="391.95"/>
<line x1="896.55" y1="390.3" x2="1817.6" y2="390.3"/>
<line x1="899.45" y1="353.76" x2="905.4" y2="353.76"/>
<line x1="896.55" y1="317.23" x2="905.4" y2="317.23"/>
<line x1="899.45" y1="280.7" x2="905.4" y2="280.7"/>
<line x1="896.55" y1="244.16" x2="905.4" y2="244.16"/>
<line x1="899.45" y1="207.63" x2="905.4" y2="207.63"/>
<line x1="896.55" y1="171.09" x2="905.4" y2="171.09"/>
<line x1="899.45" y1="134.56" x2="905.4" y2="134.56"/>
<line x1="896.55" y1="98.02" x2="905.4" y2="98.02"/>
<line x1="899.45" y1="61.49" x2="905.4" y2="61.49"/>
<line x1="896.55" y1="24.95" x2="905.4" y2="24.95"/>
<line x1="928.9" y1="390.3" x2="928.9" y2="399.05"/>
<line x1="982.97" y1="390.3" x2="982.97" y2="399.05"/>
<line x1="1037.04" y1="390.3" x2="1037.04" y2="399.05"/>
<line x1="1091.11" y1="390.3" x2="1091.11" y2="399.05"/>
<line x1="1145.18" y1="390.3" x2="1145.18" y2="399.05"/>
<line x1="1199.25" y1="390.3" x2="1199.25" y2="399.05"/>
<line x1="1253.32" y1="390.3" x2="1253.32" y2="399.05"/>
<line x1="1307.39" y1="390.3" x2="1307.39" y2="399.05"/>
<line x1="1361.46" y1="390.3" x2="1361.46" y2="399.05"/>
<line x1="1415.53" y1="390.3" x2="1415.53" y2="399.05"/>
<line x1="1469.6" y1="390.3" x2="1469.6" y2="399.05"/>
<line x1="1523.67" y1="390.3" x2="1523.67" y2="399.05"/>
<line x1="1577.74" y1="390.3" x2="1577.74" y2="399.05"/>
<line x1="1631.81" y1="390.3" x2="1631.81" y2="399.05"/>
<line x1="1685.88" y1="390.3" x2="1685.88" y2="399.05"/>
<line x1="1739.95" y1="390.3" x2="1739.95" y2="399.05"/>
<line x1="1794.02" y1="390.3" x2="1794.02" y2="399.05"/>
</g>
<g font-size="26" font-weight="bold" text-anchor="end">
<text transform="translate(895.3 399.5) scale(0.94 1)">0</text>
<text transform="translate(895.3 326.43) scale(0.94 1)">2</text>
<text transform="translate(895.3 253.36) scale(0.94 1)">4</text>
<text transform="translate(895.3 180.29) scale(0.94 1)">6</text>
<text transform="translate(895.3 107.22) scale(0.94 1)">8</text>
<text transform="translate(895.3 34.15) scale(0.94 1)">10</text>
</g>
<text transform="translate(852.1 203.6) rotate(-90)" font-size="28.5" font-weight="bold" text-anchor="middle" textLength="242" lengthAdjust="spacingAndGlyphs">Average Expression</text>
<g font-size="22.2" font-weight="bold" text-anchor="end">
<text transform="translate(932.7 415.4) rotate(-45)">ATG10</text>
<text transform="translate(986.77 415.4) rotate(-45)">ATG12</text>
<text transform="translate(1040.84 415.4) rotate(-45)">ATG16L1</text>
<text transform="translate(1094.91 415.4) rotate(-45)">ATG16L2</text>
<text transform="translate(1148.98 415.4) rotate(-45)">ATG3</text>
<text transform="translate(1203.05 415.4) rotate(-45)">ATG4A</text>
<text transform="translate(1257.12 415.4) rotate(-45)">ATG4B</text>
<text transform="translate(1311.19 415.4) rotate(-45)">ATG4C</text>
<text transform="translate(1365.26 415.4) rotate(-45)">ATG4D</text>
<text transform="translate(1419.33 415.4) rotate(-45)">ATG5</text>
<text transform="translate(1473.4 415.4) rotate(-45)">ATG7</text>
<text transform="translate(1527.47 415.4) rotate(-45)">ATG9A</text>
<text transform="translate(1581.54 415.4) rotate(-45)">ATG9B</text>
<text transform="translate(1635.61 415.4) rotate(-45)">MAP1LC3A</text>
<text transform="translate(1689.68 415.4) rotate(-45)">MAP1LC3B</text>
<text transform="translate(1743.75 415.4) rotate(-45)">NBR1</text>
<text transform="translate(1797.82 415.4) rotate(-45)">SQSTM1</text>
</g>
<circle cx="1825.6" cy="38.8" r="3.55" fill="#fff" stroke="#000" stroke-width="1.5"/>
<rect x="1822.2" y="60.5" width="6.8" height="6.8" fill="#B2B2B2" stroke="#000" stroke-width="1.3"/>
<text transform="translate(1851.8 44.4) scale(0.94 1)" font-size="19.8">N1</text>
<text transform="translate(1851.8 69.5) scale(0.94 1)" font-size="19.8">LG</text>
</g>
<g id="panel-d">
<text x="788.2" y="559.68" font-size="52.1" font-weight="bold" textLength="32.72" lengthAdjust="spacingAndGlyphs">d</text>
<rect x="908.85" y="600.65" width="27.3" height="301.1" fill="#fff" stroke="#000" stroke-width="2.1"/>
<rect x="945.05" y="602.61" width="27.3" height="299.14" fill="#B2B2B2" stroke="#000" stroke-width="2.1"/>
<rect x="1002.45" y="694.86" width="27.3" height="206.89" fill="#fff" stroke="#000" stroke-width="2.1"/>
<rect x="1038.65" y="696.34" width="27.3" height="205.41" fill="#B2B2B2" stroke="#000" stroke-width="2.1"/>
<rect x="1096.05" y="779.24" width="27.3" height="122.51" fill="#fff" stroke="#000" stroke-width="2.1"/>
<rect x="1132.25" y="775.8" width="27.3" height="125.95" fill="#B2B2B2" stroke="#000" stroke-width="2.1"/>
<rect x="1189.65" y="711.84" width="27.3" height="189.91" fill="#fff" stroke="#000" stroke-width="2.1"/>
<rect x="1225.85" y="726.11" width="27.3" height="175.64" fill="#B2B2B2" stroke="#000" stroke-width="2.1"/>
<rect x="1283.25" y="737.91" width="27.3" height="163.84" fill="#fff" stroke="#000" stroke-width="2.1"/>
<rect x="1319.45" y="736.93" width="27.3" height="164.82" fill="#B2B2B2" stroke="#000" stroke-width="2.1"/>
<rect x="1376.85" y="736.44" width="27.3" height="165.31" fill="#fff" stroke="#000" stroke-width="2.1"/>
<rect x="1413.05" y="738.16" width="27.3" height="163.59" fill="#B2B2B2" stroke="#000" stroke-width="2.1"/>
<rect x="1470.45" y="717.25" width="27.3" height="184.5" fill="#fff" stroke="#000" stroke-width="2.1"/>
<rect x="1506.65" y="720.94" width="27.3" height="180.81" fill="#B2B2B2" stroke="#000" stroke-width="2.1"/>
<rect x="1564.05" y="724.14" width="27.3" height="177.61" fill="#fff" stroke="#000" stroke-width="2.1"/>
<rect x="1600.25" y="727.58" width="27.3" height="174.17" fill="#B2B2B2" stroke="#000" stroke-width="2.1"/>
<rect x="1657.65" y="737.67" width="27.3" height="164.08" fill="#fff" stroke="#000" stroke-width="2.1"/>
<rect x="1693.85" y="747.75" width="27.3" height="154" fill="#B2B2B2" stroke="#000" stroke-width="2.1"/>
<rect x="1751.25" y="770.63" width="27.3" height="131.12" fill="#fff" stroke="#000" stroke-width="2.1"/>
<rect x="1787.45" y="772.11" width="27.3" height="129.64" fill="#B2B2B2" stroke="#000" stroke-width="2.1"/>
<circle cx="912.4" cy="600.65" r="4.3" fill="#fff" stroke="#000" stroke-width="1.3"/>
<circle cx="922.5" cy="600.4" r="4.3" fill="#fff" stroke="#000" stroke-width="1.3"/>
<circle cx="932.6" cy="600.65" r="4.3" fill="#fff" stroke="#000" stroke-width="1.3"/>
<path d="M922.5 599.91 V601.38 M914.25 599.91 H930.75 M914.25 601.38 H930.75" stroke="#000" stroke-width="2" fill="none"/>
<rect x="955.4" y="592.67" width="6.6" height="6.6" fill="#B2B2B2" stroke="#111" stroke-width="0.9"/>
<rect x="965.5" y="597.84" width="6.6" height="6.6" fill="#B2B2B2" stroke="#111" stroke-width="0.9"/>
<rect x="945.3" y="602.02" width="6.6" height="6.6" fill="#B2B2B2" stroke="#111" stroke-width="0.9"/>
<path d="M958.7 597.45 V605.07 M950.45 597.45 H966.95 M950.45 605.07 H966.95" stroke="#000" stroke-width="2" fill="none"/>
<circle cx="1006" cy="695.6" r="4.3" fill="#fff" stroke="#000" stroke-width="1.3"/>
<circle cx="1016.1" cy="693.63" r="4.3" fill="#fff" stroke="#000" stroke-width="1.3"/>
<circle cx="1026.2" cy="694.86" r="4.3" fill="#fff" stroke="#000" stroke-width="1.3"/>
<path d="M1016.1 693.63 V695.6 M1007.85 693.63 H1024.35 M1007.85 695.6 H1024.35" stroke="#000" stroke-width="2" fill="none"/>
<rect x="1049" y="688.37" width="6.6" height="6.6" fill="#B2B2B2" stroke="#111" stroke-width="0.9"/>
<rect x="1059.1" y="691.32" width="6.6" height="6.6" fill="#B2B2B2" stroke="#111" stroke-width="0.9"/>
<rect x="1038.9" y="695.5" width="6.6" height="6.6" fill="#B2B2B2" stroke="#111" stroke-width="0.9"/>
<path d="M1052.3 692.9 V698.8 M1044.05 692.9 H1060.55 M1044.05 698.8 H1060.55" stroke="#000" stroke-width="2" fill="none"/>
<circle cx="1099.6" cy="772.11" r="4.3" fill="#fff" stroke="#000" stroke-width="1.3"/>
<circle cx="1119.8" cy="778.01" r="4.3" fill="#fff" stroke="#000" stroke-width="1.3"/>
<circle cx="1099.6" cy="784.65" r="4.3" fill="#fff" stroke="#000" stroke-width="1.3"/>
<path d="M1109.7 771.86 V784.41 M1101.45 771.86 H1117.95 M1101.45 784.41 H1117.95" stroke="#000" stroke-width="2" fill="none"/>
<rect x="1142.6" y="766.84" width="6.6" height="6.6" fill="#B2B2B2" stroke="#111" stroke-width="0.9"/>
<rect x="1152.7" y="772.5" width="6.6" height="6.6" fill="#B2B2B2" stroke="#111" stroke-width="0.9"/>
<rect x="1132.5" y="775.7" width="6.6" height="6.6" fill="#B2B2B2" stroke="#111" stroke-width="0.9"/>
<path d="M1145.9 771.86 V779 M1137.65 771.86 H1154.15 M1137.65 779 H1154.15" stroke="#000" stroke-width="2" fill="none"/>
<circle cx="1203.3" cy="701.01" r="4.3" fill="#fff" stroke="#000" stroke-width="1.3"/>
<circle cx="1213.4" cy="712.33" r="4.3" fill="#fff" stroke="#000" stroke-width="1.3"/>
<circle cx="1193.2" cy="717.99" r="4.3" fill="#fff" stroke="#000" stroke-width="1.3"/>
<path d="M1203.3 702.49 V718.73 M1195.05 702.49 H1211.55 M1195.05 718.73 H1211.55" stroke="#000" stroke-width="2" fill="none"/>
<rect x="1226.1" y="716.66" width="6.6" height="6.6" fill="#B2B2B2" stroke="#111" stroke-width="0.9"/>
<rect x="1246.3" y="718.38" width="6.6" height="6.6" fill="#B2B2B2" stroke="#111" stroke-width="0.9"/>
<rect x="1236.2" y="729.94" width="6.6" height="6.6" fill="#B2B2B2" stroke="#111" stroke-width="0.9"/>
<path d="M1239.5 718.48 V731.03 M1231.25 718.48 H1247.75 M1231.25 731.03 H1247.75" stroke="#000" stroke-width="2" fill="none"/>
<circle cx="1286.8" cy="741.11" r="4.3" fill="#fff" stroke="#000" stroke-width="1.3"/>
<circle cx="1296.9" cy="733.49" r="4.3" fill="#fff" stroke="#000" stroke-width="1.3"/>
<circle cx="1307" cy="735.45" r="4.3" fill="#fff" stroke="#000" stroke-width="1.3"/>
<path d="M1296.9 734.47 V740.87 M1288.65 734.47 H1305.15 M1288.65 740.87 H1305.15" stroke="#000" stroke-width="2" fill="none"/>
<rect x="1329.8" y="716.41" width="6.6" height="6.6" fill="#B2B2B2" stroke="#111" stroke-width="0.9"/>
<rect x="1319.7" y="740.52" width="6.6" height="6.6" fill="#B2B2B2" stroke="#111" stroke-width="0.9"/>
<rect x="1339.9" y="738.8" width="6.6" height="6.6" fill="#B2B2B2" stroke="#111" stroke-width="0.9"/>
<path d="M1333.1 722.91 V748.98 M1324.85 722.91 H1341.35 M1324.85 748.98 H1341.35" stroke="#000" stroke-width="2" fill="none"/>
<circle cx="1380.4" cy="737.67" r="4.3" fill="#fff" stroke="#000" stroke-width="1.3"/>
<circle cx="1390.5" cy="732.01" r="4.3" fill="#fff" stroke="#000" stroke-width="1.3"/>
<circle cx="1400.6" cy="736.93" r="4.3" fill="#fff" stroke="#000" stroke-width="1.3"/>
<path d="M1390.5 733.73 V738.41 M1382.25 733.73 H1398.75 M1382.25 738.41 H1398.75" stroke="#000" stroke-width="2" fill="none"/>
<rect x="1413.3" y="725.51" width="6.6" height="6.6" fill="#B2B2B2" stroke="#111" stroke-width="0.9"/>
<rect x="1433.5" y="730.43" width="6.6" height="6.6" fill="#B2B2B2" stroke="#111" stroke-width="0.9"/>
<rect x="1423.4" y="745.44" width="6.6" height="6.6" fill="#B2B2B2" stroke="#111" stroke-width="0.9"/>
<path d="M1426.7 727.34 V746.28 M1418.45 727.34 H1434.95 M1418.45 746.28 H1434.95" stroke="#000" stroke-width="2" fill="none"/>
<circle cx="1474" cy="719.71" r="4.3" fill="#fff" stroke="#000" stroke-width="1.3"/>
<circle cx="1484.1" cy="712.33" r="4.3" fill="#fff" stroke="#000" stroke-width="1.3"/>
<circle cx="1494.2" cy="716.27" r="4.3" fill="#fff" stroke="#000" stroke-width="1.3"/>
<path d="M1484.1 713.07 V719.96 M1475.85 713.07 H1492.35 M1475.85 719.96 H1492.35" stroke="#000" stroke-width="2" fill="none"/>
<rect x="1506.9" y="710.51" width="6.6" height="6.6" fill="#B2B2B2" stroke="#111" stroke-width="0.9"/>
<rect x="1527.1" y="715.43" width="6.6" height="6.6" fill="#B2B2B2" stroke="#111" stroke-width="0.9"/>
<rect x="1506.9" y="722.56" width="6.6" height="6.6" fill="#B2B2B2" stroke="#111" stroke-width="0.9"/>
<path d="M1520.3 713.81 V724.88 M1512.05 713.81 H1528.55 M1512.05 724.88 H1528.55" stroke="#000" stroke-width="2" fill="none"/>
<circle cx="1567.6" cy="725.37" r="4.3" fill="#fff" stroke="#000" stroke-width="1.3"/>
<circle cx="1577.7" cy="719.46" r="4.3" fill="#fff" stroke="#000" stroke-width="1.3"/>
<circle cx="1587.8" cy="725.12" r="4.3" fill="#fff" stroke="#000" stroke-width="1.3"/>
<path d="M1577.7 721.68 V726.6 M1569.45 721.68 H1585.95 M1569.45 726.6 H1585.95" stroke="#000" stroke-width="2" fill="none"/>
<rect x="1600.5" y="715.67" width="6.6" height="6.6" fill="#B2B2B2" stroke="#111" stroke-width="0.9"/>
<rect x="1620.7" y="720.1" width="6.6" height="6.6" fill="#B2B2B2" stroke="#111" stroke-width="0.9"/>
<rect x="1610.6" y="734.12" width="6.6" height="6.6" fill="#B2B2B2" stroke="#111" stroke-width="0.9"/>
<path d="M1613.9 716.76 V734.47 M1605.65 716.76 H1622.15 M1605.65 734.47 H1622.15" stroke="#000" stroke-width="2" fill="none"/>
<circle cx="1661.2" cy="737.91" r="4.3" fill="#fff" stroke="#000" stroke-width="1.3"/>
<circle cx="1671.3" cy="736.68" r="4.3" fill="#fff" stroke="#000" stroke-width="1.3"/>
<circle cx="1681.4" cy="737.67" r="4.3" fill="#fff" stroke="#000" stroke-width="1.3"/>
<path d="M1671.3 736.93 V738.41 M1663.05 736.93 H1679.55 M1663.05 738.41 H1679.55" stroke="#000" stroke-width="2" fill="none"/>
<rect x="1694.1" y="736.34" width="6.6" height="6.6" fill="#B2B2B2" stroke="#111" stroke-width="0.9"/>
<rect x="1714.3" y="744.7" width="6.6" height="6.6" fill="#B2B2B2" stroke="#111" stroke-width="0.9"/>
<rect x="1694.1" y="749.13" width="6.6" height="6.6" fill="#B2B2B2" stroke="#111" stroke-width="0.9"/>
<path d="M1707.5 740.37 V752.67 M1699.25 740.37 H1715.75 M1699.25 752.67 H1715.75" stroke="#000" stroke-width="2" fill="none"/>
<circle cx="1754.8" cy="764.24" r="4.3" fill="#fff" stroke="#000" stroke-width="1.3"/>
<circle cx="1775" cy="770.88" r="4.3" fill="#fff" stroke="#000" stroke-width="1.3"/>
<circle cx="1754.8" cy="775.31" r="4.3" fill="#fff" stroke="#000" stroke-width="1.3"/>
<path d="M1764.9 764.48 V775.55 M1756.65 764.48 H1773.15 M1756.65 775.55 H1773.15" stroke="#000" stroke-width="2" fill="none"/>
<rect x="1787.7" y="758.48" width="6.6" height="6.6" fill="#B2B2B2" stroke="#111" stroke-width="0.9"/>
<rect x="1807.9" y="766.1" width="6.6" height="6.6" fill="#B2B2B2" stroke="#111" stroke-width="0.9"/>
<rect x="1797.8" y="779.14" width="6.6" height="6.6" fill="#B2B2B2" stroke="#111" stroke-width="0.9"/>
<path d="M1801.1 760.55 V780.72 M1792.85 760.55 H1809.35 M1792.85 780.72 H1809.35" stroke="#000" stroke-width="2" fill="none"/>
<g stroke="#000" stroke-width="3.4" fill="none">
<line x1="900.35" y1="531.05" x2="900.35" y2="903.45"/>
<line x1="891.45" y1="901.75" x2="1824.2" y2="901.75"/>
<line x1="894.35" y1="877.15" x2="900.35" y2="877.15"/>
<line x1="894.35" y1="852.55" x2="900.35" y2="852.55"/>
<line x1="894.35" y1="827.95" x2="900.35" y2="827.95"/>
<line x1="894.35" y1="803.35" x2="900.35" y2="803.35"/>
<line x1="891.45" y1="778.75" x2="900.35" y2="778.75"/>
<line x1="894.35" y1="754.15" x2="900.35" y2="754.15"/>
<line x1="894.35" y1="729.55" x2="900.35" y2="729.55"/>
<line x1="894.35" y1="704.95" x2="900.35" y2="704.95"/>
<line x1="894.35" y1="680.35" x2="900.35" y2="680.35"/>
<line x1="891.45" y1="655.75" x2="900.35" y2="655.75"/>
<line x1="894.35" y1="631.15" x2="900.35" y2="631.15"/>
<line x1="894.35" y1="606.55" x2="900.35" y2="606.55"/>
<line x1="894.35" y1="581.95" x2="900.35" y2="581.95"/>
<line x1="894.35" y1="557.35" x2="900.35" y2="557.35"/>
<line x1="891.45" y1="532.75" x2="900.35" y2="532.75"/>
<line x1="940.6" y1="901.75" x2="940.6" y2="910.55"/>
<line x1="1034.2" y1="901.75" x2="1034.2" y2="910.55"/>
<line x1="1127.8" y1="901.75" x2="1127.8" y2="910.55"/>
<line x1="1221.4" y1="901.75" x2="1221.4" y2="910.55"/>
<line x1="1315" y1="901.75" x2="1315" y2="910.55"/>
<line x1="1408.6" y1="901.75" x2="1408.6" y2="910.55"/>
<line x1="1502.2" y1="901.75" x2="1502.2" y2="910.55"/>
<line x1="1595.8" y1="901.75" x2="1595.8" y2="910.55"/>
<line x1="1689.4" y1="901.75" x2="1689.4" y2="910.55"/>
<line x1="1783" y1="901.75" x2="1783" y2="910.55"/>
</g>
<g font-size="20" font-weight="bold" text-anchor="end">
<text transform="translate(890.6 908.85) scale(0.92 1)">0</text>
<text transform="translate(890.6 785.85) scale(0.92 1)">5</text>
<text transform="translate(890.6 662.85) scale(0.92 1)">10</text>
<text transform="translate(890.6 539.85) scale(0.92 1)">15</text>
</g>
<text transform="translate(855 716.3) rotate(-90)" font-size="27.1" font-weight="bold" text-anchor="middle" textLength="242.7" lengthAdjust="spacingAndGlyphs">Average Expression</text>
<g font-size="22.7" font-weight="bold" text-anchor="end">
<text transform="translate(946.2 926.6) rotate(-45)">RAB7A</text>
<text transform="translate(1039.8 926.6) rotate(-45)">SNAP29</text>
<text transform="translate(1133.4 926.6) rotate(-45)">STX17</text>
<text transform="translate(1227 926.6) rotate(-45)">VAMP8</text>
<text transform="translate(1320.6 926.6) rotate(-45)">VPS11</text>
<text transform="translate(1414.2 926.6) rotate(-45)">VPS16</text>
<text transform="translate(1507.8 926.6) rotate(-45)">VPS18</text>
<text transform="translate(1601.4 926.6) rotate(-45)">VPS41</text>
<text transform="translate(1695 926.6) rotate(-45)">VPS33A</text>
<text transform="translate(1788.6 926.6) rotate(-45)">VPS33B</text>
</g>
<path d="M1203.5 688 V682.4 H1241 V688" stroke="#000" stroke-width="3.2" fill="none" stroke-linejoin="miter" stroke-linecap="round"/>
<text x="1222.25" y="687.4" font-size="34" font-weight="bold" text-anchor="middle">*</text>
<circle cx="1828.4" cy="566.2" r="4.9" fill="#fff" stroke="#000" stroke-width="1.5"/>
<rect x="1824.8" y="590.8" width="7.2" height="7.2" fill="#B2B2B2" stroke="#000" stroke-width="1.3"/>
<text transform="translate(1854.7 572.5) scale(0.92 1)" font-size="20.7">N1</text>
<text transform="translate(1854.7 600.7) scale(0.92 1)" font-size="20.7">LG</text>
</g>
<g id="panel-e">
<text x="788.38" y="1083.1" font-size="49.8" font-weight="bold" textLength="28.79" lengthAdjust="spacingAndGlyphs">e</text>
<rect x="910.6" y="1273.6" width="31.6" height="168.8" fill="#fff" stroke="#000" stroke-width="2.1"/>
<rect x="951.4" y="1286.28" width="31.6" height="156.12" fill="#B2B2B2" stroke="#000" stroke-width="2.1"/>
<rect x="1015.2" y="1179.38" width="31.6" height="263.02" fill="#fff" stroke="#000" stroke-width="2.1"/>
<rect x="1056" y="1183.61" width="31.6" height="258.79" fill="#B2B2B2" stroke="#000" stroke-width="2.1"/>
<rect x="1119.8" y="1244.76" width="31.6" height="197.64" fill="#fff" stroke="#000" stroke-width="2.1"/>
<rect x="1160.6" y="1246.25" width="31.6" height="196.15" fill="#B2B2B2" stroke="#000" stroke-width="2.1"/>
<rect x="1224.4" y="1206.98" width="31.6" height="235.42" fill="#fff" stroke="#000" stroke-width="2.1"/>
<rect x="1265.2" y="1226.12" width="31.6" height="216.28" fill="#B2B2B2" stroke="#000" stroke-width="2.1"/>
<rect x="1329" y="1285.04" width="31.6" height="157.36" fill="#fff" stroke="#000" stroke-width="2.1"/>
<rect x="1369.8" y="1299.21" width="31.6" height="143.19" fill="#B2B2B2" stroke="#000" stroke-width="2.1"/>
<rect x="1433.6" y="1301.2" width="31.6" height="141.2" fill="#fff" stroke="#000" stroke-width="2.1"/>
<rect x="1474.4" y="1323.32" width="31.6" height="119.08" fill="#B2B2B2" stroke="#000" stroke-width="2.1"/>
<rect x="1538.2" y="1302.19" width="31.6" height="140.21" fill="#fff" stroke="#000" stroke-width="2.1"/>
<rect x="1579" y="1330.78" width="31.6" height="111.62" fill="#B2B2B2" stroke="#000" stroke-width="2.1"/>
<rect x="1642.8" y="1270.12" width="31.6" height="172.28" fill="#fff" stroke="#000" stroke-width="2.1"/>
<rect x="1683.6" y="1268.63" width="31.6" height="173.77" fill="#B2B2B2" stroke="#000" stroke-width="2.1"/>
<rect x="1747.4" y="1199.27" width="31.6" height="243.13" fill="#fff" stroke="#000" stroke-width="2.1"/>
<rect x="1788.2" y="1203.25" width="31.6" height="239.15" fill="#B2B2B2" stroke="#000" stroke-width="2.1"/>
<circle cx="914.3" cy="1265.15" r="4.4" fill="#fff" stroke="#000" stroke-width="1.4"/>
<circle cx="938.5" cy="1270.87" r="4.4" fill="#fff" stroke="#000" stroke-width="1.4"/>
<circle cx="926.4" cy="1281.06" r="4.4" fill="#fff" stroke="#000" stroke-width="1.4"/>
<path d="M926.4 1263.66 V1280.31 M917.1 1263.66 H935.7 M917.1 1280.31 H935.7" stroke="#000" stroke-width="2" fill="none"/>
<rect x="963.65" y="1266.32" width="7.1" height="7.1" fill="#B2B2B2" stroke="#111" stroke-width="1"/>
<rect x="963.65" y="1282.23" width="7.1" height="7.1" fill="#B2B2B2" stroke="#111" stroke-width="1"/>
<rect x="963.65" y="1294.91" width="7.1" height="7.1" fill="#B2B2B2" stroke="#111" stroke-width="1"/>
<path d="M967.2 1271.61 V1298.46 M957.9 1271.61 H976.5 M957.9 1298.46 H976.5" stroke="#000" stroke-width="2" fill="none"/>
<circle cx="1018.9" cy="1173.66" r="4.4" fill="#fff" stroke="#000" stroke-width="1.4"/>
<circle cx="1043.1" cy="1179.63" r="4.4" fill="#fff" stroke="#000" stroke-width="1.4"/>
<circle cx="1018.9" cy="1184.85" r="4.4" fill="#fff" stroke="#000" stroke-width="1.4"/>
<path d="M1031 1173.66 V1184.85 M1021.7 1173.66 H1040.3 M1021.7 1184.85 H1040.3" stroke="#000" stroke-width="2" fill="none"/>
<rect x="1056.15" y="1180.31" width="7.1" height="7.1" fill="#B2B2B2" stroke="#111" stroke-width="1"/>
<rect x="1068.25" y="1179.56" width="7.1" height="7.1" fill="#B2B2B2" stroke="#111" stroke-width="1"/>
<rect x="1080.35" y="1180.06" width="7.1" height="7.1" fill="#B2B2B2" stroke="#111" stroke-width="1"/>
<path d="M1071.8 1182.86 V1184.85 M1062.5 1182.86 H1081.1 M1062.5 1184.85 H1081.1" stroke="#000" stroke-width="2" fill="none"/>
<circle cx="1123.5" cy="1246.01" r="4.4" fill="#fff" stroke="#000" stroke-width="1.4"/>
<circle cx="1135.6" cy="1239.54" r="4.4" fill="#fff" stroke="#000" stroke-width="1.4"/>
<circle cx="1147.7" cy="1245.51" r="4.4" fill="#fff" stroke="#000" stroke-width="1.4"/>
<path d="M1135.6 1240.79 V1246.75 M1126.3 1240.79 H1144.9 M1126.3 1246.75 H1144.9" stroke="#000" stroke-width="2" fill="none"/>
<rect x="1172.85" y="1231.52" width="7.1" height="7.1" fill="#B2B2B2" stroke="#111" stroke-width="1"/>
<rect x="1184.95" y="1243.2" width="7.1" height="7.1" fill="#B2B2B2" stroke="#111" stroke-width="1"/>
<rect x="1160.75" y="1247.43" width="7.1" height="7.1" fill="#B2B2B2" stroke="#111" stroke-width="1"/>
<path d="M1176.4 1237.55 V1251.48 M1167.1 1237.55 H1185.7 M1167.1 1251.48 H1185.7" stroke="#000" stroke-width="2" fill="none"/>
<circle cx="1240.2" cy="1192.31" r="4.4" fill="#fff" stroke="#000" stroke-width="1.4"/>
<circle cx="1252.3" cy="1207.47" r="4.4" fill="#fff" stroke="#000" stroke-width="1.4"/>
<circle cx="1228.1" cy="1216.92" r="4.4" fill="#fff" stroke="#000" stroke-width="1.4"/>
<path d="M1240.2 1193.05 V1218.16 M1230.9 1193.05 H1249.5 M1230.9 1218.16 H1249.5" stroke="#000" stroke-width="2" fill="none"/>
<rect x="1277.45" y="1205.17" width="7.1" height="7.1" fill="#B2B2B2" stroke="#111" stroke-width="1"/>
<rect x="1277.45" y="1223.31" width="7.1" height="7.1" fill="#B2B2B2" stroke="#111" stroke-width="1"/>
<rect x="1277.45" y="1234.5" width="7.1" height="7.1" fill="#B2B2B2" stroke="#111" stroke-width="1"/>
<path d="M1281 1210.7 V1239.05 M1271.7 1210.7 H1290.3 M1271.7 1239.05 H1290.3" stroke="#000" stroke-width="2" fill="none"/>
<circle cx="1332.7" cy="1279.82" r="4.4" fill="#fff" stroke="#000" stroke-width="1.4"/>
<circle cx="1356.9" cy="1281.06" r="4.4" fill="#fff" stroke="#000" stroke-width="1.4"/>
<circle cx="1344.8" cy="1291.5" r="4.4" fill="#fff" stroke="#000" stroke-width="1.4"/>
<path d="M1344.8 1277.58 V1290.26 M1335.5 1277.58 H1354.1 M1335.5 1290.26 H1354.1" stroke="#000" stroke-width="2" fill="none"/>
<rect x="1382.05" y="1289.44" width="7.1" height="7.1" fill="#B2B2B2" stroke="#111" stroke-width="1"/>
<rect x="1394.15" y="1291.93" width="7.1" height="7.1" fill="#B2B2B2" stroke="#111" stroke-width="1"/>
<rect x="1369.95" y="1299.63" width="7.1" height="7.1" fill="#B2B2B2" stroke="#111" stroke-width="1"/>
<path d="M1385.6 1293.24 V1302.19 M1376.3 1293.24 H1394.9 M1376.3 1302.19 H1394.9" stroke="#000" stroke-width="2" fill="none"/>
<circle cx="1437.3" cy="1304.68" r="4.4" fill="#fff" stroke="#000" stroke-width="1.4"/>
<circle cx="1449.4" cy="1296.72" r="4.4" fill="#fff" stroke="#000" stroke-width="1.4"/>
<circle cx="1461.5" cy="1299.46" r="4.4" fill="#fff" stroke="#000" stroke-width="1.4"/>
<path d="M1449.4 1297.22 V1304.18 M1440.1 1297.22 H1458.7 M1440.1 1304.18 H1458.7" stroke="#000" stroke-width="2" fill="none"/>
<rect x="1486.65" y="1313.56" width="7.1" height="7.1" fill="#B2B2B2" stroke="#111" stroke-width="1"/>
<rect x="1498.75" y="1319.77" width="7.1" height="7.1" fill="#B2B2B2" stroke="#111" stroke-width="1"/>
<rect x="1474.55" y="1323.25" width="7.1" height="7.1" fill="#B2B2B2" stroke="#111" stroke-width="1"/>
<path d="M1490.2 1319.09 V1325.81 M1480.9 1319.09 H1499.5 M1480.9 1325.81 H1499.5" stroke="#000" stroke-width="2" fill="none"/>
<circle cx="1554" cy="1291.75" r="4.4" fill="#fff" stroke="#000" stroke-width="1.4"/>
<circle cx="1566.1" cy="1302.69" r="4.4" fill="#fff" stroke="#000" stroke-width="1.4"/>
<circle cx="1541.9" cy="1307.41" r="4.4" fill="#fff" stroke="#000" stroke-width="1.4"/>
<path d="M1554 1292.74 V1308.9 M1544.7 1292.74 H1563.3 M1544.7 1308.9 H1563.3" stroke="#000" stroke-width="2" fill="none"/>
<rect x="1591.25" y="1297.15" width="7.1" height="7.1" fill="#B2B2B2" stroke="#111" stroke-width="1"/>
<rect x="1603.35" y="1336.68" width="7.1" height="7.1" fill="#B2B2B2" stroke="#111" stroke-width="1"/>
<rect x="1579.15" y="1343.14" width="7.1" height="7.1" fill="#B2B2B2" stroke="#111" stroke-width="1"/>
<path d="M1594.8 1304.18 V1353.9 M1585.5 1304.18 H1604.1 M1585.5 1353.9 H1604.1" stroke="#000" stroke-width="2" fill="none"/>
<circle cx="1646.5" cy="1271.61" r="4.4" fill="#fff" stroke="#000" stroke-width="1.4"/>
<circle cx="1658.6" cy="1266.64" r="4.4" fill="#fff" stroke="#000" stroke-width="1.4"/>
<circle cx="1670.7" cy="1270.62" r="4.4" fill="#fff" stroke="#000" stroke-width="1.4"/>
<path d="M1658.6 1268.38 V1272.61 M1649.3 1268.38 H1667.9 M1649.3 1272.61 H1667.9" stroke="#000" stroke-width="2" fill="none"/>
<rect x="1683.75" y="1258.62" width="7.1" height="7.1" fill="#B2B2B2" stroke="#111" stroke-width="1"/>
<rect x="1707.95" y="1265.08" width="7.1" height="7.1" fill="#B2B2B2" stroke="#111" stroke-width="1"/>
<rect x="1683.75" y="1269.3" width="7.1" height="7.1" fill="#B2B2B2" stroke="#111" stroke-width="1"/>
<path d="M1699.4 1262.17 V1272.85 M1690.1 1262.17 H1708.7 M1690.1 1272.85 H1708.7" stroke="#000" stroke-width="2" fill="none"/>
<circle cx="1763.2" cy="1193.55" r="4.4" fill="#fff" stroke="#000" stroke-width="1.4"/>
<circle cx="1775.3" cy="1197.53" r="4.4" fill="#fff" stroke="#000" stroke-width="1.4"/>
<circle cx="1751.1" cy="1203.99" r="4.4" fill="#fff" stroke="#000" stroke-width="1.4"/>
<path d="M1763.2 1195.29 V1203.25 M1753.9 1195.29 H1772.5 M1753.9 1203.25 H1772.5" stroke="#000" stroke-width="2" fill="none"/>
<rect x="1800.45" y="1193.23" width="7.1" height="7.1" fill="#B2B2B2" stroke="#111" stroke-width="1"/>
<rect x="1788.35" y="1201.93" width="7.1" height="7.1" fill="#B2B2B2" stroke="#111" stroke-width="1"/>
<rect x="1812.55" y="1201.93" width="7.1" height="7.1" fill="#B2B2B2" stroke="#111" stroke-width="1"/>
<path d="M1804 1199.02 V1207.22 M1794.7 1199.02 H1813.3 M1794.7 1207.22 H1813.3" stroke="#000" stroke-width="2" fill="none"/>
<g stroke="#000" stroke-width="3.4" fill="none">
<line x1="901.3" y1="1067.8" x2="901.3" y2="1444.1"/>
<line x1="892.4" y1="1442.4" x2="1829.5" y2="1442.4"/>
<line x1="895.3" y1="1417.54" x2="901.3" y2="1417.54"/>
<line x1="895.3" y1="1392.68" x2="901.3" y2="1392.68"/>
<line x1="895.3" y1="1367.82" x2="901.3" y2="1367.82"/>
<line x1="895.3" y1="1342.96" x2="901.3" y2="1342.96"/>
<line x1="892.4" y1="1318.1" x2="901.3" y2="1318.1"/>
<line x1="895.3" y1="1293.24" x2="901.3" y2="1293.24"/>
<line x1="895.3" y1="1268.38" x2="901.3" y2="1268.38"/>
<line x1="895.3" y1="1243.52" x2="901.3" y2="1243.52"/>
<line x1="895.3" y1="1218.66" x2="901.3" y2="1218.66"/>
<line x1="892.4" y1="1193.8" x2="901.3" y2="1193.8"/>
<line x1="895.3" y1="1168.94" x2="901.3" y2="1168.94"/>
<line x1="895.3" y1="1144.08" x2="901.3" y2="1144.08"/>
<line x1="895.3" y1="1119.22" x2="901.3" y2="1119.22"/>
<line x1="895.3" y1="1094.36" x2="901.3" y2="1094.36"/>
<line x1="892.4" y1="1069.5" x2="901.3" y2="1069.5"/>
<line x1="946.8" y1="1442.4" x2="946.8" y2="1451.2"/>
<line x1="1051.4" y1="1442.4" x2="1051.4" y2="1451.2"/>
<line x1="1156" y1="1442.4" x2="1156" y2="1451.2"/>
<line x1="1260.6" y1="1442.4" x2="1260.6" y2="1451.2"/>
<line x1="1365.2" y1="1442.4" x2="1365.2" y2="1451.2"/>
<line x1="1469.8" y1="1442.4" x2="1469.8" y2="1451.2"/>
<line x1="1574.4" y1="1442.4" x2="1574.4" y2="1451.2"/>
<line x1="1679" y1="1442.4" x2="1679" y2="1451.2"/>
<line x1="1783.6" y1="1442.4" x2="1783.6" y2="1451.2"/>
</g>
<g font-size="23" font-weight="bold" text-anchor="end">
<text transform="translate(891.5 1450.6) scale(0.96 1)">0</text>
<text transform="translate(891.5 1326.3) scale(0.96 1)">5</text>
<text transform="translate(891.5 1202) scale(0.96 1)">10</text>
<text transform="translate(891.5 1077.7) scale(0.96 1)">15</text>
</g>
<text transform="translate(857.4 1253.2) rotate(-90)" font-size="27.8" font-weight="bold" text-anchor="middle" textLength="246.9" lengthAdjust="spacingAndGlyphs">Average Expression</text>
<g font-size="23.1" font-weight="bold" text-anchor="end">
<text transform="translate(953.3 1467.7) rotate(-45)">CTSB</text>
<text transform="translate(1057.9 1467.7) rotate(-45)">CTSD</text>
<text transform="translate(1162.5 1467.7) rotate(-45)">CTSL</text>
<text transform="translate(1267.1 1467.7) rotate(-45)">CTSS</text>
<text transform="translate(1371.7 1467.7) rotate(-45)">CTSC</text>
<text transform="translate(1476.3 1467.7) rotate(-45)">CTSH</text>
<text transform="translate(1580.9 1467.7) rotate(-45)">CTSO</text>
<text transform="translate(1685.5 1467.7) rotate(-45)">LAMP1</text>
<text transform="translate(1790.1 1467.7) rotate(-45)">LAMP2</text>
</g>
<path d="M1240 1178.2 V1172.6 H1279 V1178.2" stroke="#000" stroke-width="3.3" fill="none" stroke-linejoin="miter" stroke-linecap="round"/>
<text x="1259.5" y="1176.2" font-size="34" font-weight="bold" text-anchor="middle">*</text>
<path d="M1345.7 1270.8 V1265.2 H1384.3 V1270.8" stroke="#000" stroke-width="3.3" fill="none" stroke-linejoin="miter" stroke-linecap="round"/>
<text x="1365" y="1268.3" font-size="34" font-weight="bold" text-anchor="middle">*</text>
<path d="M1451 1270.6 V1265 H1489 V1270.6" stroke="#000" stroke-width="3.3" fill="none" stroke-linejoin="miter" stroke-linecap="round"/>
<text x="1471.2" y="1267.4" font-size="34" font-weight="bold" text-anchor="middle">***</text>
<path d="M1555.4 1269 V1263.4 H1593.5 V1269" stroke="#000" stroke-width="3.3" fill="none" stroke-linejoin="miter" stroke-linecap="round"/>
<text x="1575.85" y="1265.4" font-size="34" font-weight="bold" text-anchor="middle">**</text>
<circle cx="1840.5" cy="1098.8" r="4.8" fill="#fff" stroke="#000" stroke-width="1.5"/>
<rect x="1836.8" y="1122.1" width="7.4" height="7.4" fill="#B2B2B2" stroke="#000" stroke-width="1.3"/>
<text transform="translate(1867.6 1105.8) scale(0.92 1)" font-size="21">N1</text>
<text transform="translate(1867.6 1132.8) scale(0.92 1)" font-size="21">LG</text>
</g>
</svg>
</body>
</html>
